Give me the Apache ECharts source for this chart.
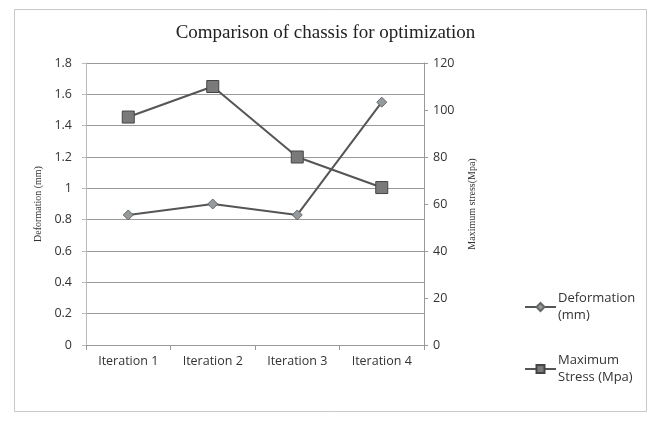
<!DOCTYPE html>
<html><head><meta charset="utf-8">
<script src="https://cdn.jsdelivr.net/npm/echarts@6/dist/echarts.min.js"></script>
<style>html,body{margin:0;padding:0;background:#fff}#c{width:651px;height:423px}</style>
</head><body><div id="c"></div>
<script>
const categories = ['Iteration 1', 'Iteration 2', 'Iteration 3', 'Iteration 4'];
const deformation = [0.83, 0.9, 0.83, 1.55];
const maxStress = [97, 110, 80, 67];
const leftTicks = {min: 0, max: 1.8, interval: 0.2};
const rightTicks = {min: 0, max: 120, interval: 20};

const chart = echarts.init(document.getElementById('c'));
const lineColor = '#555';
chart.setOption({
  animation: false,
  backgroundColor: '#fff',
  title: {
    text: 'Comparison of chassis for optimization',
    left: 'center', top: 19,
    textStyle: {fontFamily: 'Liberation Serif', fontSize: 19, fontWeight: 'normal', color: '#222'}
  },
  graphic: [{
    type: 'rect', shape: {x: 14.5, y: 9.5, width: 632, height: 402},
    style: {fill: 'none', stroke: '#c8c8c8', lineWidth: 1}, silent: true
  }],
  grid: {left: 86, right: 227, top: 63, bottom: 78, containLabel: false},
  legend: {
    orient: 'vertical', left: 519, top: 285, itemGap: 28,
    itemWidth: 31, itemHeight: 10,
    textStyle: {fontFamily: 'Open Sans', fontSize: 13, color: '#333', lineHeight: 17, padding: [0, 0, 0, -3]},
    formatter: function (n) { return n === 'Deformation (mm)' ? 'Deformation\n(mm)' : 'Maximum\nStress (Mpa)'; },
    data: ['Deformation (mm)', 'Maximum Stress (Mpa)']
  },
  xAxis: {
    type: 'category', data: categories, boundaryGap: true,
    axisLine: {lineStyle: {color: '#999'}},
    axisTick: {show: true, alignWithLabel: false, length: 5, lineStyle: {color: '#999'}},
    axisLabel: {fontFamily: 'Open Sans', fontSize: 12.5, color: '#333', margin: 10}
  },
  yAxis: [{
    type: 'value', min: leftTicks.min, max: leftTicks.max, interval: leftTicks.interval,
    name: 'Deformation (mm)', nameLocation: 'middle', nameGap: 41, nameRotate: 90,
    nameTextStyle: {fontFamily: 'Liberation Serif', fontSize: 10, color: '#333'},
    axisLine: {show: true, lineStyle: {color: '#bbb'}},
    axisTick: {show: true, length: 4, lineStyle: {color: '#bbb'}},
    axisLabel: {fontFamily: 'Open Sans', fontSize: 12.5, color: '#333', margin: 14,
      formatter: function (v) { return String(Math.round(v * 10) / 10); }},
    splitLine: {show: true, lineStyle: {color: '#999', width: 1}}
  }, {
    type: 'value', min: rightTicks.min, max: rightTicks.max, interval: rightTicks.interval,
    position: 'right',
    name: 'Maximum stress(Mpa)', nameLocation: 'middle', nameGap: 43, nameRotate: 90,
    nameTextStyle: {fontFamily: 'Liberation Serif', fontSize: 10, color: '#333'},
    axisLine: {show: true, lineStyle: {color: '#999'}},
    axisTick: {show: true, length: 4, lineStyle: {color: '#999'}},
    axisLabel: {fontFamily: 'Open Sans', fontSize: 12.5, color: '#333', margin: 9},
    splitLine: {show: false}
  }],
  series: [{
    name: 'Deformation (mm)', type: 'line', yAxisIndex: 0, data: deformation,
    symbol: 'diamond', symbolSize: 10,
    lineStyle: {color: lineColor, width: 2},
    itemStyle: {color: '#939b9f', borderColor: '#666', borderWidth: 1}
  }, {
    name: 'Maximum Stress (Mpa)', type: 'line', yAxisIndex: 1, data: maxStress,
    symbol: 'rect', symbolSize: 12,
    lineStyle: {color: lineColor, width: 2},
    itemStyle: {color: '#7a7a7a', borderColor: '#444', borderWidth: 1}
  }]
});
</script></body></html>
